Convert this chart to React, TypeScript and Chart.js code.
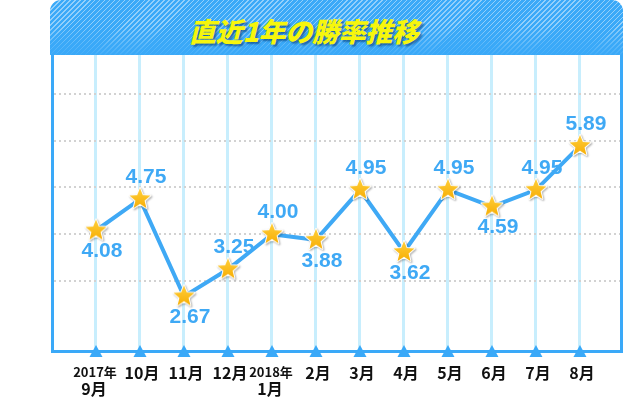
import React, { useEffect, useRef } from 'react';
import { Chart, registerables } from 'chart.js';

Chart.register(...registerables);

const title = '直近1年の勝率推移';
const months = ['9月', '10月', '11月', '12月', '1月', '2月', '3月', '4月', '5月', '6月', '7月', '8月'];
const yearLabels = ['2017年', '', '', '', '2018年', '', '', '', '', '', '', ''];
const winRate = [4.08, 4.75, 2.67, 3.25, 4.0, 3.88, 4.95, 3.62, 4.95, 4.59, 4.95, 5.89];
const labelPos = ['below', 'above', 'below', 'above', 'above', 'below', 'above', 'below', 'above', 'below', 'above', 'above'];
const gridValues = [3, 4, 5, 6, 7];

const BLUE = '#3aa9f8';
const LINE_BLUE = '#3fa9f5';

function makeStar(): HTMLCanvasElement {
  const c = document.createElement('canvas');
  c.width = 30;
  c.height = 30;
  const ctx = c.getContext('2d') as CanvasRenderingContext2D;
  const cx = 15, cy = 15, R = 11, r = 4.8;
  ctx.beginPath();
  for (let i = 0; i < 10; i++) {
    const a = -Math.PI / 2 + (i * Math.PI) / 5;
    const rad = i % 2 === 0 ? R : r;
    const x = cx + rad * Math.cos(a);
    const y = cy + rad * Math.sin(a);
    if (i === 0) ctx.moveTo(x, y);
    else ctx.lineTo(x, y);
  }
  ctx.closePath();
  ctx.save();
  ctx.shadowColor = 'rgba(0,0,0,0.35)';
  ctx.shadowBlur = 2;
  ctx.shadowOffsetX = 1;
  ctx.shadowOffsetY = 1;
  ctx.lineJoin = 'round';
  ctx.lineWidth = 2;
  ctx.strokeStyle = '#ffffff';
  ctx.stroke();
  ctx.restore();
  const g = ctx.createLinearGradient(0, cy - R, 0, cy + R);
  g.addColorStop(0, '#ffcf3a');
  g.addColorStop(1, '#f6ab00');
  ctx.fillStyle = g;
  ctx.fill();
  return c;
}

const overlayPlugin = {
  id: 'overlay',
  afterDatasetsDraw(chart: any) {
    const ctx = chart.ctx as CanvasRenderingContext2D;
    const meta = chart.getDatasetMeta(0);
    ctx.save();
    ctx.font = 'bold 21px "Liberation Sans", Arial, sans-serif';
    ctx.fillStyle = LINE_BLUE;
    ctx.textAlign = 'center';
    ctx.textBaseline = 'middle';
    meta.data.forEach((pt: any, i: number) => {
      const dy = labelPos[i] === 'above' ? -22 : 21;
      ctx.fillText(winRate[i].toFixed(2), pt.x + 6, pt.y + dy);
    });
    ctx.restore();
  },
  afterDraw(chart: any) {
    const ctx = chart.ctx as CanvasRenderingContext2D;
    const xs = chart.scales.x;
    const bottom = chart.chartArea.bottom;
    ctx.save();
    ctx.fillStyle = BLUE;
    months.forEach((_, i) => {
      const x = xs.getPixelForValue(i);
      ctx.beginPath();
      ctx.moveTo(x, bottom - 5);
      ctx.lineTo(x + 6.5, bottom + 7);
      ctx.lineTo(x - 6.5, bottom + 7);
      ctx.closePath();
      ctx.fill();
    });
    ctx.fillStyle = '#111111';
    ctx.textAlign = 'center';
    ctx.textBaseline = 'middle';
    months.forEach((m, i) => {
      const x = xs.getPixelForValue(i);
      if (yearLabels[i]) {
        ctx.font = 'bold 13px "Noto Sans CJK JP", sans-serif';
        ctx.fillText(yearLabels[i], x - 1, bottom + 22);
        ctx.font = 'bold 16px "Noto Sans CJK JP", sans-serif';
        ctx.fillText(m, x - 2, bottom + 39);
      } else {
        ctx.font = 'bold 16px "Noto Sans CJK JP", sans-serif';
        ctx.fillText(m, x + 2, bottom + 23);
      }
    });
    ctx.restore();
  },
};

export default function App() {
  const ref = useRef<HTMLCanvasElement>(null);

  useEffect(() => {
    if (!ref.current) return;
    const star = makeStar();
    const chart = new Chart(ref.current, {
      type: 'line',
      data: {
        datasets: [
          {
            data: winRate.map((v, i) => ({ x: i, y: v })),
            borderColor: LINE_BLUE,
            borderWidth: 4,
            tension: 0,
            pointStyle: star as any,
            pointRadius: 10,
            pointHoverRadius: 10,
            clip: false as any,
          },
        ],
      },
      options: {
        animation: false,
        responsive: false,
        devicePixelRatio: 1,
        layout: { autoPadding: false, padding: { left: 54, right: 4, top: 55, bottom: 50 } },
        plugins: {
          legend: { display: false },
          tooltip: { enabled: false },
          title: { display: false },
        },
        scales: {
          x: {
            type: 'linear',
            min: -0.9545,
            max: 11.91,
            z: -1,
            afterBuildTicks: (axis: any) => {
              axis.ticks = months.map((_, i) => ({ value: i }));
            },
            ticks: { display: false },
            border: { display: false },
            grid: { color: '#c8eefd', lineWidth: 3, drawTicks: false },
          },
          y: {
            type: 'linear',
            min: 1.524,
            max: 7.834,
            afterBuildTicks: (axis: any) => {
              axis.ticks = gridValues.map((v) => ({ value: v }));
            },
            ticks: { display: false },
            border: { display: false, dash: [2, 3] },
            grid: { color: '#d2d2d2', lineWidth: 2, drawTicks: false },
          },
        },
      },
      plugins: [overlayPlugin],
    });
    return () => chart.destroy();
  }, []);

  return (
    <div style={{ position: 'absolute', left: 0, top: 0, width: 624, height: 400, background: '#ffffff', overflow: 'hidden' }}>
      <div
        style={{
          position: 'absolute',
          left: 51,
          top: 53,
          width: 572,
          height: 300,
          boxSizing: 'border-box',
          borderLeft: `3px solid ${BLUE}`,
          borderRight: `3px solid ${BLUE}`,
          borderBottom: `3px solid ${BLUE}`,
        }}
      />
      <div
        style={{
          position: 'absolute',
          left: 50,
          top: 0,
          width: 573,
          height: 55,
          borderRadius: '11px 11px 0 0',
          background: `linear-gradient(to bottom, rgba(58,169,248,0) 0%, rgba(58,169,248,0) 45%, rgba(58,169,248,0.9) 100%), repeating-linear-gradient(135deg, rgba(255,255,255,0.45) 0px, rgba(255,255,255,0.45) 1px, rgba(255,255,255,0) 1px, rgba(255,255,255,0) 3.5px), ${BLUE}`,
        }}
      />
      <div
        style={{
          position: 'absolute',
          left: 189,
          top: 16,
          height: 30,
          lineHeight: '30px',
          fontFamily: '"Noto Sans CJK JP", sans-serif',
          fontWeight: 900,
          fontStyle: 'italic',
          fontSize: 27,
          letterSpacing: -0.3,
          color: '#f6f60c',
          whiteSpace: 'nowrap',
          textShadow: '2px 2px 2px rgba(0,45,100,0.55)',
        }}
      >
        {title}
      </div>
      <canvas
        ref={ref}
        width={624}
        height={400}
        style={{ position: 'absolute', left: 0, top: 0, width: 624, height: 400, pointerEvents: 'none' }}
      />
    </div>
  );
}
